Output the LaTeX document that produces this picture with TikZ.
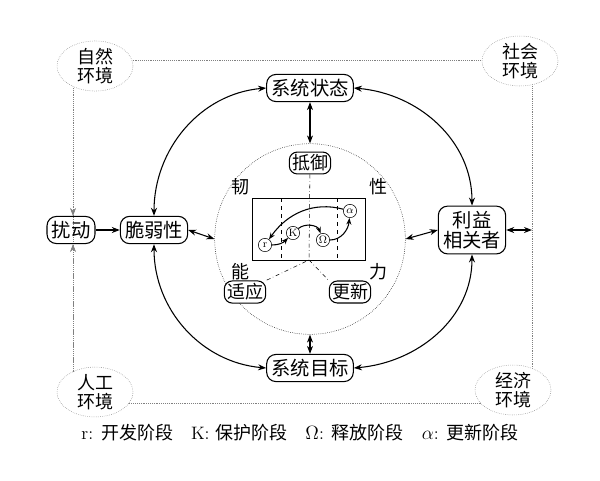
\documentclass[tikz,border=0pt]{standalone}
\usepackage{fontspec}
\newfontfamily\cjk{Noto Sans CJK SC}
\usetikzlibrary{arrows.meta,shapes.geometric,positioning}
\tikzset{
  box/.style={draw,thick,rounded corners=7pt,inner sep=3.5pt,font=\cjk\fontsize{14.5}{15.5}\selectfont,align=center},
  env/.style={draw,densely dotted,gray,ellipse,inner sep=0pt,minimum width=57pt,minimum height=34pt,text=black,font=\cjk\fontsize{13.5}{14}\selectfont,align=center,fill=white},
  small/.style={draw,thick,rounded corners=6pt,inner sep=2pt,font=\cjk\fontsize{13.5}{14}\selectfont,fill=white},
  ph/.style={draw,circle,inner sep=0.5pt,minimum size=10pt,font=\footnotesize,fill=white},
  lab/.style={font=\cjk\fontsize{13.5}{14}\selectfont},
  arr/.style={-{Stealth[length=6pt]},thick},
  darr/.style={{Stealth[length=6pt]}-{Stealth[length=6pt]},thick}
}
\begin{document}
\begin{tikzpicture}[x=0.75pt,y=-0.75pt]
  \useasboundingbox (0,0) rectangle (600,480);
  % environment frame
  \draw[densely dotted,gray] (73,60) rectangle (532,403);
  \node[env] (nat) at (95,66) {自然\\环境};
  \node[env] (soc) at (520,61) {社会\\环境};
  \node[env] (art) at (95,392) {人工\\环境};
  \node[env] (eco) at (513,390) {经济\\环境};
  % main nodes
  \node[box] (state) at (310,88) {系统状态};
  \node[box] (goal) at (310,368) {系统目标};
  \node[box] (dist) at (71,230) {扰动};
  \node[box] (vul) at (154,230) {脆弱性};
  \node[box] (stake) at (472,230) {利益\\相关者};
  % resilience circle
  \node[draw,densely dotted,circle,minimum size=143pt] (res) at (310,239) {};
  \draw (252,198) rectangle (365,260);
  \draw[dashed] (281,198) -- (281,260) (337,198) -- (337,260);
  \node[small] (def) at (310,163) {抵御};
  \node[small] (ada) at (245,292) {适应};
  \node[small] (ren) at (350,292) {更新};
  \coordinate (mid) at (309,260);
  \draw[dash dot] (def) -- (mid) -- (ada.north east) (mid) -- (ren.north west);
  \node[lab] at (240,187) {韧};
  \node[lab] at (378,187) {性};
  \node[lab] at (240,272) {能};
  \node[lab] at (378,272) {力};
  % adaptive cycle
  \node[ph] (r) at (265,245) {r};
  \node[ph] (k) at (293,233) {K};
  \node[ph] (o) at (323,240) {$\Omega$};
  \node[ph] (a) at (350,211) {$\alpha$};
  \path[-{Stealth[length=5pt]},thick]
    (r) edge[out=0,in=225] (k)
    (k) edge[out=40,in=110] (o)
    (o) edge[out=0,in=265] (a)
    (a) edge[out=165,in=55] (r);
  % connectors
  \path[darr]
    (state.west) edge[out=185,in=90] (vul.north)
    (state.east) edge[out=-5,in=90] (stake.north)
    (goal.west) edge[out=175,in=-90] (vul.south)
    (goal.east) edge[out=5,in=-90] (stake.south)
    (state.south) edge (res.north)
    (res.south) edge (goal.north)
    (vul.east) edge (res.west)
    (res.east) edge (stake.west);
  \coordinate (rside) at (532,230);
  \coordinate (ltop) at (73,88);
  \coordinate (lbot) at (73,372);
  \draw[darr] (stake.east) -- (rside);
  \draw[arr] (dist) -- (vul);
  \draw[densely dotted,gray,-{Stealth[length=6pt]}] (ltop) -- (ltop |- dist.north);
  \draw[densely dotted,gray,-{Stealth[length=6pt]}] (lbot) -- (lbot |- dist.south);
  % legend
  \node[font=\fontsize{13.5}{14}\selectfont] (leg) at (300,433) {r: {\cjk 开发阶段}\quad K: {\cjk 保护阶段}\quad $\Omega$: {\cjk 释放阶段}\quad $\alpha$: {\cjk 更新阶段}};
\end{tikzpicture}
\end{document}
